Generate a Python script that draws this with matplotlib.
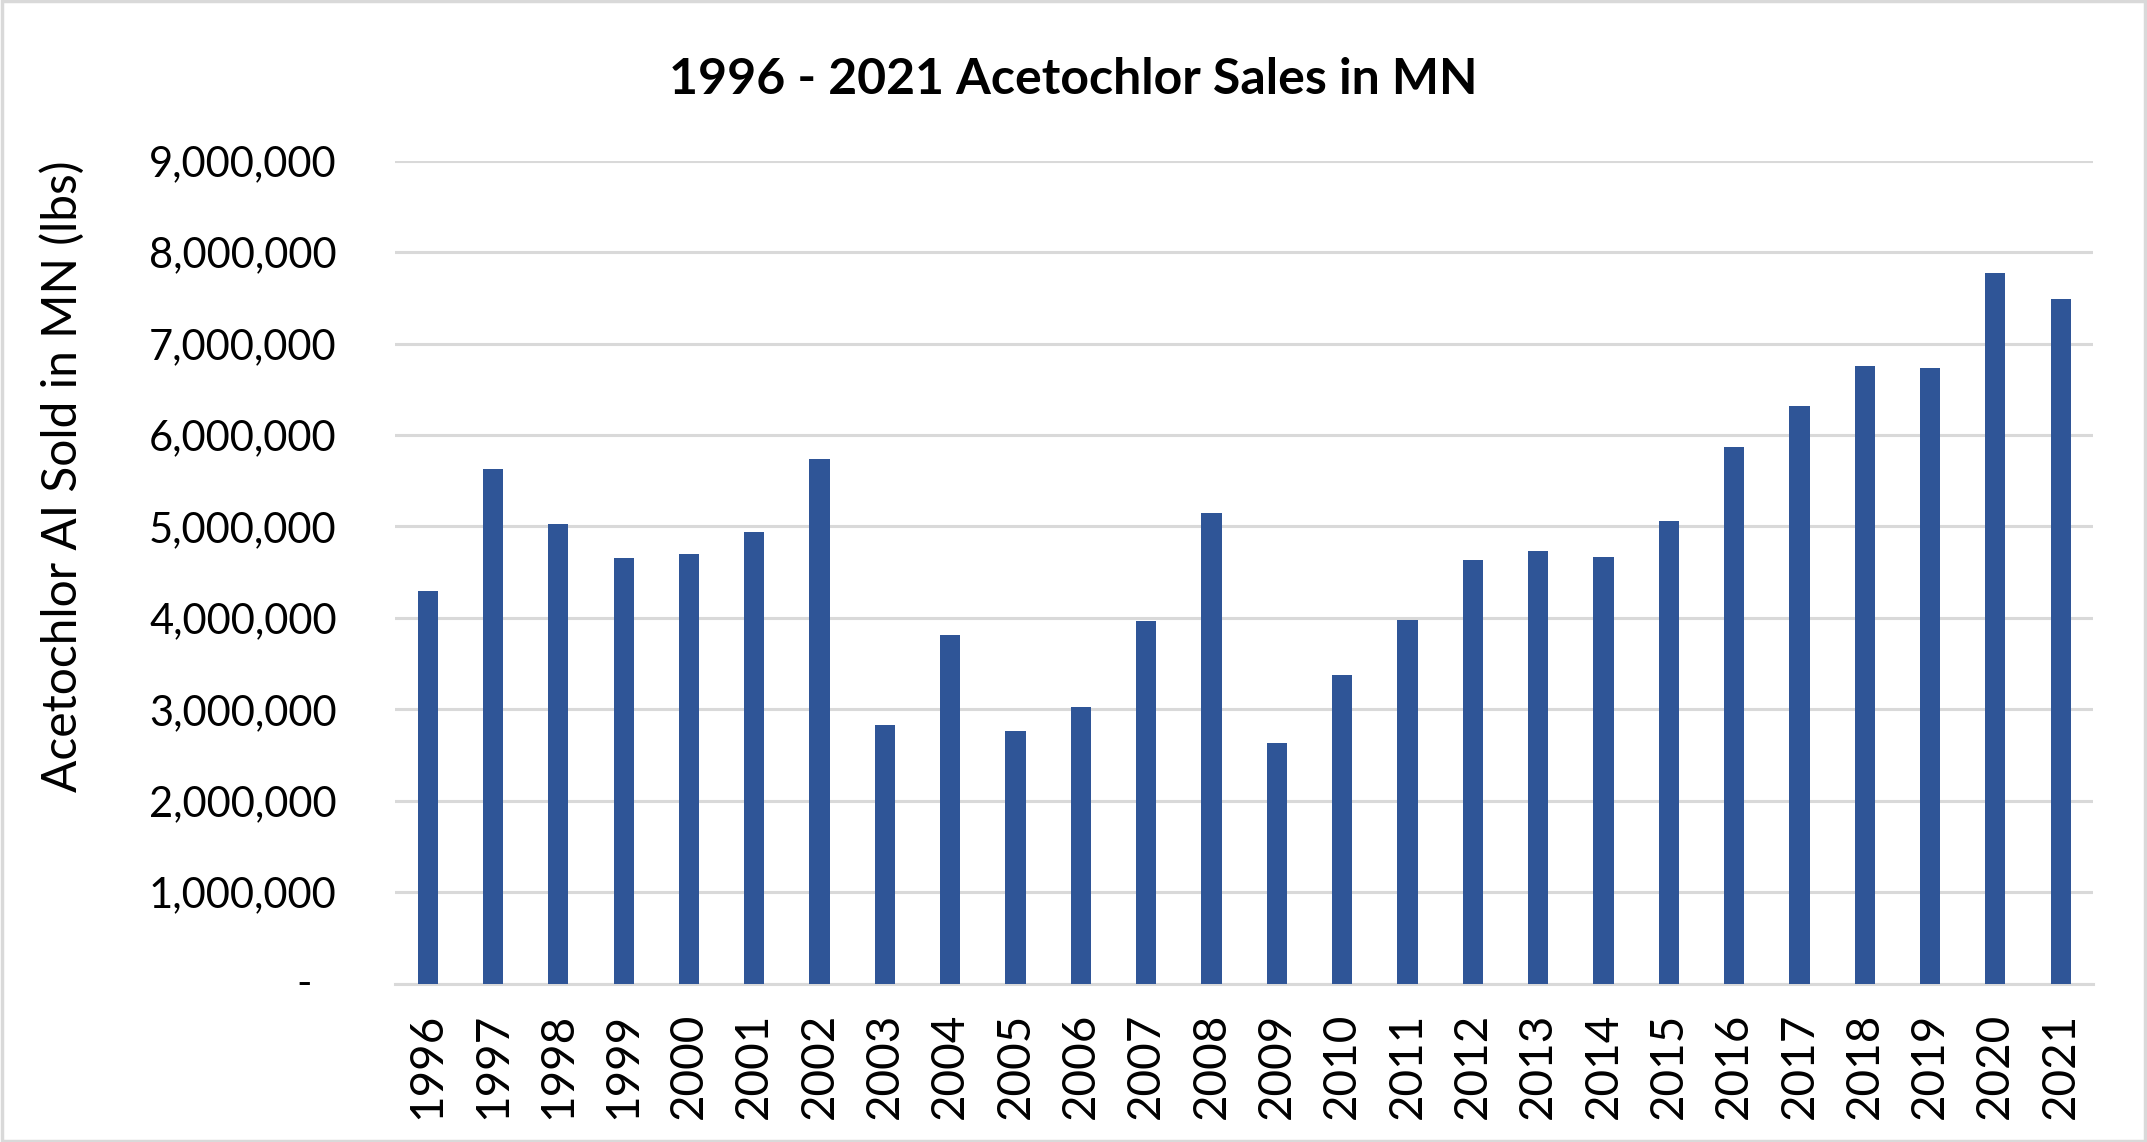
import numpy as np
import matplotlib.pyplot as plt
from matplotlib.patches import Rectangle
from matplotlib.ticker import FuncFormatter

plt.rcParams['font.family'] = ['Lato', 'DejaVu Sans']

# Acetochlor active ingredient sold in MN (lbs)
years = [str(y) for y in range(1996, 2022)]
sales = [4290000, 5630000, 5030000, 4660000, 4700000, 4940000, 5740000,
         2825000, 3810000, 2760000, 3025000, 3970000, 5150000, 2630000,
         3370000, 3975000, 4633000, 4734000, 4666000, 5060000, 5869000,
         6321000, 6756000, 6735000, 7773000, 7489000]
yticks = np.arange(0, 9000001, 1000000)

bar_color = '#2F5597'
grid_color = '#D9D9D9'

fig = plt.figure(figsize=(21.47, 11.42), dpi=100)
ax = fig.add_axes([0.184, 0.1387, 0.791, 0.7206])

x = np.arange(len(years))
ax.bar(x, sales, width=0.31, color=bar_color, zorder=3)

ax.set_xlim(-0.5, len(years) - 0.5)
ax.set_ylim(0, 9000000)
ax.set_yticks(yticks)
ax.yaxis.set_major_formatter(FuncFormatter(lambda v, p: '' if v == 0 else f'{int(v):,}'))
ax.set_xticks(x)
ax.set_xticklabels(years, rotation=90)

ax.grid(axis='y', color=grid_color, linewidth=2.2, zorder=0)
for s in ['top', 'right', 'left']:
    ax.spines[s].set_visible(False)
ax.spines['bottom'].set_color(grid_color)
ax.spines['bottom'].set_linewidth(2.2)
ax.tick_params(axis='both', length=0)
ax.tick_params(axis='y', pad=42, labelsize=30)
ax.tick_params(axis='x', pad=21, labelsize=33)

# Excel accounting format shows zero as a dash
ax.text(-0.049, 0, '-', transform=ax.get_yaxis_transform(), ha='right', va='center', fontsize=30)

fig.text(0.029, 0.583, 'Acetochlor AI Sold in MN (lbs)', rotation=90,
         ha='center', va='center', fontsize=34.5)
fig.text(0.5, 0.918, '1996 - 2021 Acetochlor Sales in MN', ha='center', va='baseline',
         fontsize=36, fontweight='bold')

fig.patches.append(Rectangle((0.0007, 0.0013), 0.9986, 0.9974, transform=fig.transFigure,
                             fill=False, edgecolor=grid_color, linewidth=2.5))

fig.savefig('out.png', dpi=100)
